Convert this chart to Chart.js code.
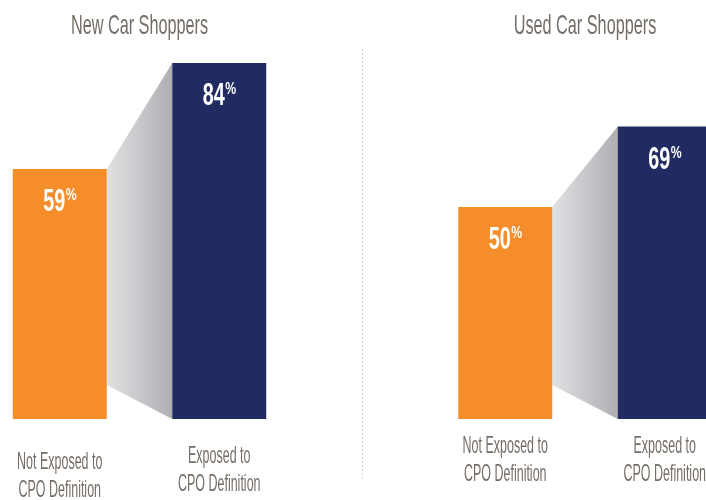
<!DOCTYPE html>
<html><head><meta charset="utf-8">
<script src="https://cdn.jsdelivr.net/npm/chart.js@4.4.1/dist/chart.umd.min.js"></script>
<style>html,body{margin:0;padding:0;background:#fff;overflow:hidden;} canvas{display:block;}</style>
</head><body>
<canvas id="c" width="706" height="500"></canvas>
<script>
// ---- data ----
const categories = ['New Car Shoppers', 'Used Car Shoppers'];
const seriesNames = [['Not Exposed to', 'CPO Definition'], ['Exposed to', 'CPO Definition']];
const notExposedValues = [59, 50];
const exposedValues = [84, 69];
const valueSuffix = '%';

// ---- style ----
const ORANGE = '#f68d2b';
const NAVY = '#222b61';
const TEXT_GRAY = '#756e67';
const connectorFoot = 8;            // value at which connector meets the short bar
const labelOffsets = [[50, 34], [44, 34]]; // [series][category] px below base

function condensedText(ctx, text, x, y, font, sx, align) {
  ctx.save();
  ctx.font = font;
  const w = ctx.measureText(text).width * sx;
  const left = align === 'center' ? x - w / 2 : (align === 'right' ? x - w : x);
  ctx.translate(left, y);
  ctx.scale(sx, 1);
  ctx.textAlign = 'left';
  ctx.textBaseline = 'alphabetic';
  ctx.fillText(text, 0, 0);
  ctx.restore();
  return w;
}

const decorPlugin = {
  id: 'decor',
  beforeDatasetsDraw(chart) {
    const ctx = chart.ctx;
    const m0 = chart.getDatasetMeta(0), m1 = chart.getDatasetMeta(1);
    const ys = chart.scales.y;
    m0.data.forEach((o, i) => {
      const n = m1.data[i];
      const ox = o.x + o.width / 2, nx = n.x - n.width / 2;
      const g = ctx.createLinearGradient(ox, 0, nx, 0);
      g.addColorStop(0, '#e0e1e3');
      g.addColorStop(1, '#aeafb2');
      ctx.save();
      ctx.fillStyle = g;
      ctx.beginPath();
      ctx.moveTo(ox, o.y);
      ctx.lineTo(nx, n.y);
      ctx.lineTo(nx, n.base);
      ctx.lineTo(ox, ys.getPixelForValue(connectorFoot));
      ctx.closePath();
      ctx.fill();
      ctx.restore();
    });
  },
  afterDatasetsDraw(chart) {
    const ctx = chart.ctx;
    const xs = chart.scales.x;
    // divider
    const dx = Math.round((xs.getPixelForValue(0) + xs.getPixelForValue(1)) / 2) + 0.5;
    ctx.save();
    ctx.strokeStyle = '#c2c2c2';
    ctx.lineWidth = 1;
    ctx.setLineDash([1.5, 2.5]);
    ctx.beginPath();
    ctx.moveTo(dx, 49);
    ctx.lineTo(dx, 478);
    ctx.stroke();
    ctx.restore();

    // titles
    ctx.fillStyle = TEXT_GRAY;
    categories.forEach((c, i) => {
      condensedText(ctx, c, xs.getPixelForValue(i), 34, '28px "Liberation Sans"', 0.58, 'center');
    });

    // bars: values + series labels
    chart.data.datasets.forEach((ds, di) => {
      const meta = chart.getDatasetMeta(di);
      meta.data.forEach((bar, i) => {
        // value
        ctx.fillStyle = '#ffffff';
        const num = String(ds.data[i]);
        const numFont = 'bold 32px "Liberation Sans"';
        const pctFont = 'bold 17px "Liberation Sans"';
        ctx.font = numFont;
        const wn = ctx.measureText(num).width * 0.62;
        ctx.font = pctFont;
        const wp = ctx.measureText(valueSuffix).width * 0.72;
        const start = bar.x - (wn + wp) / 2;
        condensedText(ctx, num, start, bar.y + 42, numFont, 0.62, 'left');
        condensedText(ctx, valueSuffix, start + wn + 0.5, bar.y + 31, pctFont, 0.72, 'left');
        // series label
        ctx.fillStyle = TEXT_GRAY;
        const lines = seriesNames[di];
        const by = bar.base + labelOffsets[di][i];
        lines.forEach((ln, li) => {
          condensedText(ctx, ln, bar.x, by + li * 28, '24px "Liberation Sans"', 0.52, 'center');
        });
      });
    });
  }
};

new Chart(document.getElementById('c'), {
  type: 'bar',
  data: {
    labels: categories,
    datasets: [
      { label: seriesNames[0].join(' '), data: notExposedValues, backgroundColor: ORANGE, borderWidth: 0, clip: false,
        categoryPercentage: 0.716, barPercentage: 0.5893 },
      { label: seriesNames[1].join(' '), data: exposedValues, backgroundColor: NAVY, borderWidth: 0, clip: false,
        categoryPercentage: 0.716, barPercentage: 0.5893 }
    ]
  },
  options: {
    responsive: false,
    animation: false,
    layout: { padding: { left: 139.5, right: 121, top: 37.6, bottom: 81 } },
    scales: {
      x: { display: false, offset: false, grid: { display: false } },
      y: { display: false, min: 0, max: 90, grid: { display: false } }
    },
    plugins: { legend: { display: false }, tooltip: { enabled: false }, title: { display: false } }
  },
  plugins: [decorPlugin]
});
</script>
</body></html>
